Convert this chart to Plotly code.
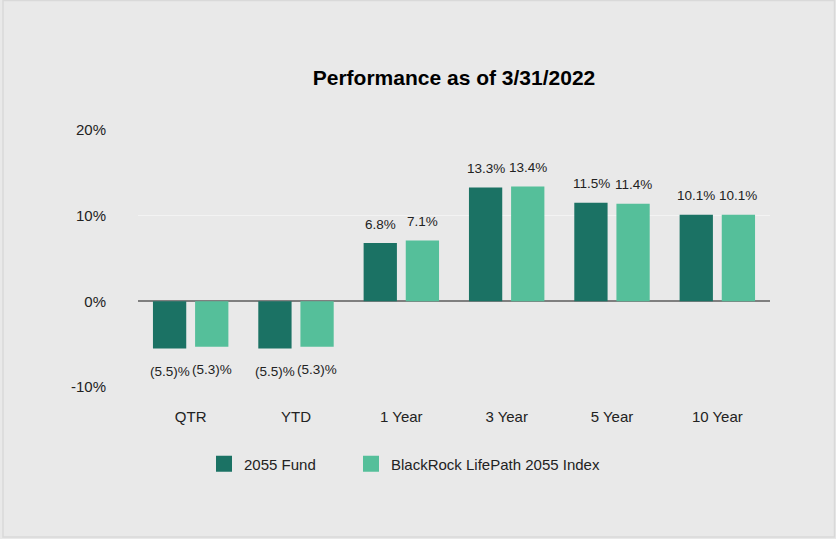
import plotly.graph_objects as go

categories = ["QTR", "YTD", "1 Year", "3 Year", "5 Year", "10 Year"]
fund_values = [-5.5, -5.5, 6.8, 13.3, 11.5, 10.1]
index_values = [-5.3, -5.3, 7.1, 13.4, 11.4, 10.1]
series_names = ["2055 Fund", "BlackRock LifePath 2055 Index"]
y_tick_vals = [-10, 0, 10, 20]
y_tick_text = ["-10%", "0%", "10%", "20%"]

DARK = "#1B7264"
LIGHT = "#55BF9A"
BG = "#E9E9E9"
FONT = "Liberation Sans, Arial, sans-serif"

W, H = 836, 539
ML, MR, MT, MB = 138, 66, 130, 152
PW, PH = W - ML - MR, H - MT - MB


def fmt(v):
    return f"({abs(v):.1f})%" if v < 0 else f"{v:.1f}%"


fig = go.Figure()
fig.add_trace(go.Bar(x=categories, y=fund_values, name=series_names[0],
                     marker=dict(color=DARK, line=dict(width=0)), showlegend=False))
fig.add_trace(go.Bar(x=categories, y=index_values, name=series_names[1],
                     marker=dict(color=LIGHT, line=dict(width=0)), showlegend=False))
# legend entries (one legend each, for spacing)
for nm, col, lg in zip(series_names, [DARK, LIGHT], ["legend", "legend2"]):
    fig.add_trace(go.Scatter(x=[None], y=[None], mode="markers", name=nm, legend=lg,
                             marker=dict(symbol="square", size=18, color=col), showlegend=True))

annotations = []
for vals, shift in [(fund_values, -21), (index_values, 21)]:
    for c, v in zip(categories, vals):
        annotations.append(dict(x=c, y=v, xref="x", yref="y", text=fmt(v), showarrow=False,
                                xshift=shift, yshift=(19 if v >= 0 else -23),
                                font=dict(family=FONT, size=13.5, color="#222222")))

leg_common = dict(orientation="h", xanchor="left", y=-(464 - (MT + PH)) / PH,
                  yanchor="middle", bgcolor="rgba(0,0,0,0)",
                  font=dict(family=FONT, size=15, color="#222222"))

fig.update_layout(
    width=W, height=H,
    margin=dict(l=ML, r=MR, t=MT, b=MB),
    paper_bgcolor=BG, plot_bgcolor=BG,
    barmode="group", bargap=0.2, bargroupgap=0.21,
    title=dict(text="<b>Performance as of 3/31/2022</b>", x=0.5, xref="paper", xanchor="center",
               y=1 - 78 / H, yanchor="middle",
               font=dict(family=FONT, size=21, color="#000000")),
    font=dict(family=FONT, size=15, color="#222222"),
    showlegend=True,
    legend=dict(x=(204 - ML) / PW, **leg_common),
    legend2=dict(x=(351 - ML) / PW, **leg_common),
    annotations=annotations,
    xaxis=dict(type="category", range=[-0.5, 5.5], showgrid=False, zeroline=False,
               showline=False, ticks="outside", ticklen=16, tickcolor="rgba(0,0,0,0)",
               tickfont=dict(family=FONT, size=15, color="#222222")),
    yaxis=dict(range=[-10, 20], tickvals=y_tick_vals, ticktext=y_tick_text,
               showgrid=True, gridcolor="#F3F3F3", gridwidth=1,
               zeroline=True, zerolinecolor="#7F7F7F", zerolinewidth=2,
               showline=False, ticks="outside", ticklen=28, tickcolor="rgba(0,0,0,0)",
               tickfont=dict(family=FONT, size=15, color="#222222")),
    shapes=[dict(type="rect", xref="paper", yref="paper",
                 x0=(3 - ML) / PW, x1=(834.5 - ML) / PW,
                 y0=-(537 - MT - PH) / PH, y1=1 + (MT - 0.5) / PH,
                 line=dict(color="#D9D9D9", width=1.5), fillcolor="rgba(0,0,0,0)", layer="below")],
)

fig.write_html("out.html", config={"displayModeBar": False},
               post_script="document.body.style.margin='0';")
